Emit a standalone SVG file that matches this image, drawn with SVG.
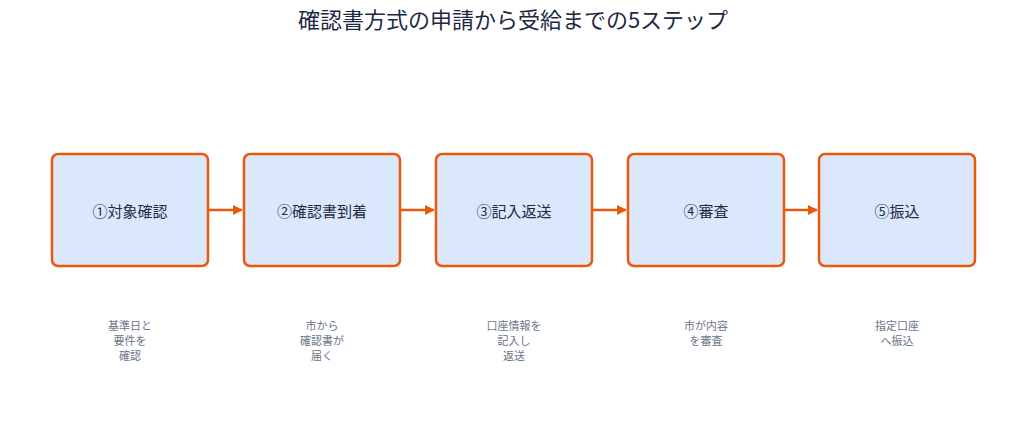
<svg xmlns="http://www.w3.org/2000/svg" width="1027" height="432" viewBox="0 0 1027 432">
<style>
.box{fill:#dbe8fb;stroke:#e8590c;stroke-width:2.5}
.lbl{font-family:"Noto Sans CJK JP","Noto Sans",sans-serif;font-size:15px;fill:#1e2a44;text-anchor:middle;dominant-baseline:central}
.sub{font-family:"Noto Sans CJK JP","Noto Sans",sans-serif;font-size:11px;fill:#6b7589;text-anchor:middle}
.title{font-family:"Noto Sans CJK JP","Noto Sans",sans-serif;font-size:22px;fill:#1e2a44;text-anchor:middle}
.con{stroke:#e8590c;stroke-width:2.5;fill:none;marker-end:url(#ah)}
</style>
<defs><marker id="ah" viewBox="0 0 10 10" refX="9" refY="5" markerWidth="4" markerHeight="4" orient="auto"><path d="M0,0L10,5L0,10z" fill="#e8590c"/></marker></defs>
<rect width="1027" height="432" fill="#fff"/>
<text class="title" x="513" y="28">確認書方式の申請から受給までの5ステップ</text>
<g id="connectors">
<line class="con" x1="209" y1="210" x2="242" y2="210"/>
<line class="con" x1="401" y1="210" x2="434" y2="210"/>
<line class="con" x1="593" y1="210" x2="626" y2="210"/>
<line class="con" x1="785" y1="210" x2="817" y2="210"/>
</g>
<g id="n1"><rect class="box" x="52" y="154" width="156" height="112" rx="6"/><text class="lbl" x="130" y="210">①対象確認</text></g>
<g id="n2"><rect class="box" x="244" y="154" width="156" height="112" rx="6"/><text class="lbl" x="322" y="210">②確認書到着</text></g>
<g id="n3"><rect class="box" x="436" y="154" width="156" height="112" rx="6"/><text class="lbl" x="514" y="210">③記入返送</text></g>
<g id="n4"><rect class="box" x="628" y="154" width="156" height="112" rx="6"/><text class="lbl" x="706" y="210">④審査</text></g>
<g id="n5"><rect class="box" x="819" y="154" width="156" height="112" rx="6"/><text class="lbl" x="897" y="210">⑤振込</text></g>
<g id="subs">
<text class="sub" x="130" y="330">基準日と</text><text class="sub" x="130" y="345">要件を</text><text class="sub" x="130" y="360">確認</text>
<text class="sub" x="322" y="330">市から</text><text class="sub" x="322" y="345">確認書が</text><text class="sub" x="322" y="360">届く</text>
<text class="sub" x="514" y="330">口座情報を</text><text class="sub" x="514" y="345">記入し</text><text class="sub" x="514" y="360">返送</text>
<text class="sub" x="706" y="330">市が内容</text><text class="sub" x="706" y="345">を審査</text>
<text class="sub" x="897" y="330">指定口座</text><text class="sub" x="897" y="345">へ振込</text>
</g>
</svg>
